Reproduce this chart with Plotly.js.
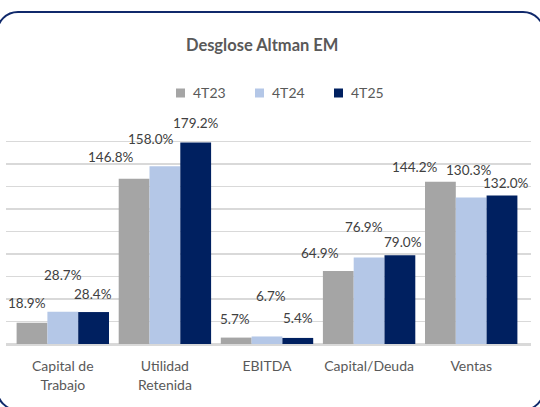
<!DOCTYPE html>
<html>
<head>
<meta charset="utf-8">
<script src="https://cdn.plot.ly/plotly-3.0.1.min.js"></script>
<style>
  html, body { margin: 0; padding: 0; width: 540px; height: 407px; overflow: hidden; background: #fff; }
  #chart { position: absolute; left: 0; top: 0; width: 540px; height: 407px; }
  #frame { position: absolute; left: -4px; top: 11px; width: 545px; height: 396px;
           border: 2px solid #10296b; border-radius: 22px; pointer-events: none; }
</style>
</head>
<body>
<div id="chart"></div>
<div id="frame"></div>
<script>
// ---- data ----
const categories = ["Capital de<br>Trabajo", "Utilidad<br>Retenida", "EBITDA", "Capital/Deuda", "Ventas"];
const seriesNames = ["4T23", "4T24", "4T25"];
const v4T23 = [18.9, 146.8, 5.7, 64.9, 144.2];
const v4T24 = [28.7, 158.0, 6.7, 76.9, 130.3];
const v4T25 = [28.4, 179.2, 5.4, 79.0, 132.0];

// ---- styles ----
const colors = ["#a5a5a5", "#b4c7e7", "#002060"];
const seriesValues = [v4T23, v4T24, v4T25];
// label nudges in pixels [dx, dy] per series per category (manual label placement in reference)
const labelNudge = [
  [[-5, 20], [-23, 22], [-1, 19], [-18, 18], [-25, 15]],
  [[0, 37], [-14, 27], [4, 40], [-5, 30], [-2, 27]],
  [[-1, 18], [0, 19], [0, 20], [3, 13], [4, 13]]
];
const bargap = 0.095;
const fontFam = "Lato, 'Open Sans', sans-serif";

// plot geometry (pixels) used to place the hand-made legend
const M = { l: 6, r: 9, t: 119, b: 63 };
const W = 540, H = 407;
const pw = W - M.l - M.r, ph = H - M.t - M.b;
const px2x = p => (p - M.l) / pw;
const px2y = p => 1 - (p - M.t) / ph;

const traces = seriesNames.map((n, j) => ({
  type: "bar",
  name: n,
  x: categories,
  y: seriesValues[j],
  marker: { color: colors[j], line: { width: 0 } },
  hoverinfo: "skip",
  showlegend: false
}));

const annotations = [];
seriesValues.forEach((vals, j) => {
  vals.forEach((v, i) => {
    annotations.push({
      xref: "x", yref: "y",
      x: i + (j - 1) * (1 - bargap) / 3,
      y: v,
      text: v.toFixed(1) + "%",
      showarrow: false,
      xanchor: "center", yanchor: "middle",
      xshift: labelNudge[j][i][0],
      yshift: labelNudge[j][i][1],
      font: { family: fontFam, size: 13.5, color: "#404040" }
    });
  });
});

// legend (drawn by hand to match spacing of reference)
const legendLeft = [176, 255, 334];
const legendY = 93;
const shapes = [];
seriesNames.forEach((n, j) => {
  shapes.push({
    type: "rect", xref: "paper", yref: "paper",
    x0: px2x(legendLeft[j]), x1: px2x(legendLeft[j] + 9),
    y0: px2y(legendY + 4.5), y1: px2y(legendY - 4.5),
    fillcolor: colors[j], line: { width: 0 }
  });
  annotations.push({
    xref: "paper", yref: "paper",
    x: px2x(legendLeft[j] + 15), y: px2y(legendY),
    xanchor: "left", yanchor: "middle",
    text: n, showarrow: false,
    font: { family: fontFam, size: 14, color: "#595959" }
  });
});

const layout = {
  width: W, height: H,
  margin: { l: M.l, r: M.r, t: M.t, b: M.b, pad: 0 },
  paper_bgcolor: "rgba(0,0,0,0)",
  plot_bgcolor: "rgba(0,0,0,0)",
  barmode: "group",
  bargap: bargap,
  bargroupgap: 0,
  title: {
    text: "<b>Desglose Altman EM</b>",
    font: { family: fontFam, size: 16.5, color: "#595959" },
    xref: "paper", x: 0.488, xanchor: "center",
    yref: "container", y: 1 - 45 / 407, yanchor: "middle"
  },
  showlegend: false,
  xaxis: {
    type: "category",
    tickfont: { family: fontFam, size: 14, color: "#595959" },
    ticks: "", ticklabelstandoff: 9,
    showline: true, linecolor: "#d9d9d9", linewidth: 1.5,
    showgrid: false, fixedrange: true
  },
  yaxis: {
    range: [0, 200], dtick: 20,
    showticklabels: false, ticks: "",
    showgrid: true, gridcolor: "#d9d9d9", gridwidth: 1.5,
    zeroline: true, zerolinecolor: "#d9d9d9", zerolinewidth: 1.5,
    showline: false, fixedrange: true
  },
  shapes: shapes,
  annotations: annotations
};

Plotly.newPlot("chart", traces, layout, { displayModeBar: false, staticPlot: true });
</script>
</body>
</html>
